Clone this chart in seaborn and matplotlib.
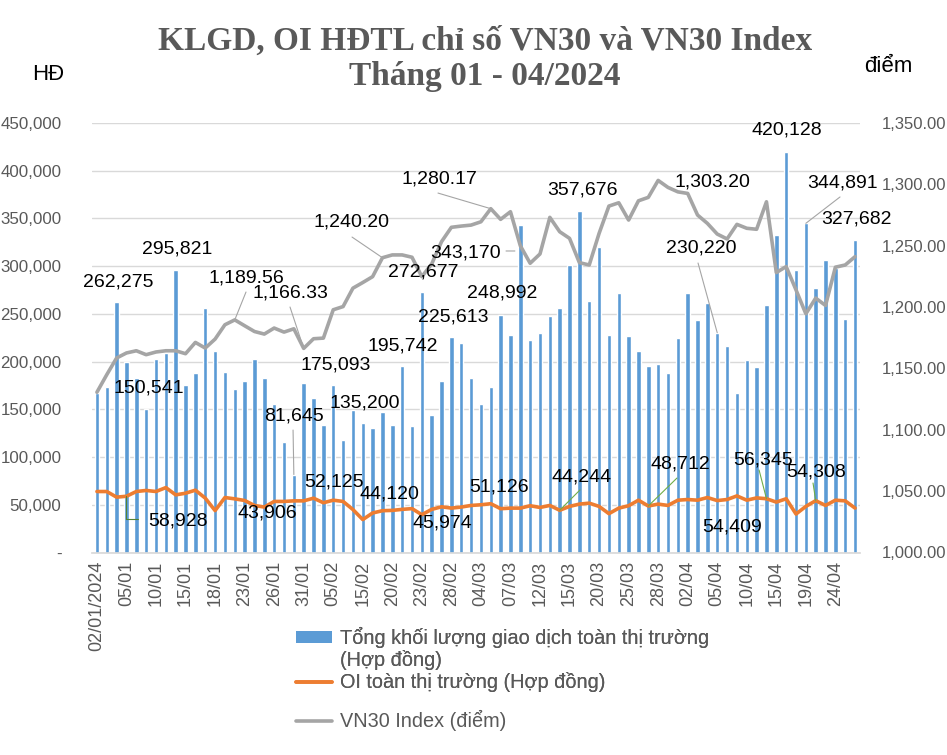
import matplotlib
matplotlib.use("Agg")
import matplotlib.pyplot as plt
import seaborn as sns
import numpy as np
import pandas as pd
from matplotlib.patches import Patch
from matplotlib.lines import Line2D
from matplotlib.ticker import FuncFormatter, FixedLocator

# ---------------- data ----------------
dates = ["02/01/2024", "03/01", "04/01", "05/01", "08/01", "09/01", "10/01", "11/01", "12/01",
         "15/01", "16/01", "17/01", "18/01", "19/01", "22/01", "23/01", "24/01", "25/01",
         "26/01", "29/01", "30/01", "31/01", "01/02", "02/02", "05/02", "06/02", "07/02",
         "15/02", "16/02", "19/02", "20/02", "21/02", "22/02", "23/02", "26/02", "27/02",
         "28/02", "29/02", "01/03", "04/03", "05/03", "06/03", "07/03", "08/03", "11/03",
         "12/03", "13/03", "14/03", "15/03", "18/03", "19/03", "20/03", "21/03", "22/03",
         "25/03", "26/03", "27/03", "28/03", "29/03", "01/04", "02/04", "03/04", "04/04",
         "05/04", "08/04", "09/04", "10/04", "11/04", "12/04", "15/04", "16/04", "17/04",
         "19/04", "22/04", "23/04", "24/04", "25/04", "26/04"]

volume = [167400, 173600, 262275, 199700, 183000, 150541, 202800, 209000, 295821,
          175300, 188200, 255900, 211100, 189200, 170800, 179900, 202800, 183000,
          155900, 115300, 81645, 177800, 162200, 134000, 175093, 117400, 149700,
          135200, 130900, 147600, 134000, 195742, 133000, 272677, 144400, 179900,
          225613, 219400, 183000, 155900, 173600, 248992, 227800, 343170, 222600,
          229900, 247600, 255900, 300700, 357676, 263200, 320500, 227800, 271500,
          226700, 211100, 195500, 197600, 188200, 224700, 271800, 243600, 261300,
          230220, 216400, 167200, 201700, 194400, 259200, 332400, 420128, 295800,
          344891, 277000, 306300, 297900, 244600, 327682]

oi = [63900, 63900, 58000, 58928, 63900, 65000, 63900, 68000, 60400,
      62100, 65300, 57000, 43906, 57600, 56200, 54500, 49300, 47600,
      53500, 53500, 54100, 54100, 56900, 52125, 54800, 53500, 45000,
      34500, 41400, 43800, 44120, 45200, 45974, 39600, 45200, 47900,
      46500, 47600, 49300, 50000, 51126, 45900, 46500, 46500, 49000,
      47200, 49300, 44244, 48300, 50700, 51700, 48300, 40700, 46500,
      49000, 54800, 48712, 50700, 49300, 54800, 55500, 54800, 57600,
      54409, 55500, 59300, 54800, 57200, 56345, 52800, 56300, 40300,
      48300, 54308, 49300, 54800, 54100, 46500]

vn30 = [1130.6, 1144.9, 1158.5, 1162.6, 1164.4, 1161.2, 1163.4, 1164.4, 1164.4,
        1162.0, 1171.2, 1166.6, 1173.9, 1185.6, 1189.56, 1184.8, 1180.1, 1178.0,
        1182.9, 1179.6, 1182.3, 1166.33, 1174.2, 1174.7, 1197.8, 1200.4, 1215.4,
        1220.0, 1224.8, 1240.20, 1242.5, 1242.5, 1240.6, 1224.8, 1235.1, 1253.3,
        1265.0, 1266.0, 1266.8, 1269.5, 1280.17, 1271.5, 1277.7, 1250.0, 1235.7,
        1243.3, 1273.1, 1261.4, 1256.0, 1236.2, 1234.3, 1260.0, 1282.3, 1285.0,
        1270.9, 1286.6, 1289.4, 1303.20, 1297.5, 1293.9, 1292.6, 1275.0, 1268.2,
        1259.5, 1255.5, 1267.4, 1264.2, 1263.4, 1285.8, 1228.1, 1233.0, 1214.0,
        1194.5, 1207.3, 1201.3, 1232.5, 1234.3, 1241.1]

left_ticks = [0, 50000, 100000, 150000, 200000, 250000, 300000, 350000, 400000, 450000]
right_ticks = [1000, 1050, 1100, 1150, 1200, 1250, 1300, 1350]

title_text = "KLGD, OI HĐTL chỉ số VN30 và VN30 Index\nTháng 01 - 04/2024"
legend_labels = ["Tổng khối lượng giao dịch toàn thị trường",
                 "(Hợp đồng)",
                 "OI toàn thị trường (Hợp đồng)",
                 "VN30 Index (điểm)"]

# data labels: (text, x position (category index), y position on left axis)
labels_bar = [("262,275", 2.14, 283400), ("295,821", 8.13, 318000), ("150,541", 5.29, 172300),
              ("81,645", 20.02, 143000), ("175,093", 24.23, 196400), ("135,200", 27.18, 156900),
              ("195,742", 31.09, 216400), ("272,677", 33.12, 294200), ("225,613", 36.17, 247000),
              ("248,992", 41.14, 271600), ("343,170", 37.44, 313800), ("357,676", 49.27, 379800),
              ("230,220", 61.35, 318700), ("420,128", 70.09, 442700), ("344,891", 75.68, 387400),
              ("327,682", 77.10, 349100)]
labels_vn30 = [("1,189.56", 15.14, 287600), ("1,166.33", 19.66, 271900),
               ("1,240.20", 25.86, 346600), ("1,280.17", 34.74, 391300),
               ("1,303.20", 62.47, 388500)]
labels_oi = [("58,928", 8.19, 33500), ("43,906", 17.28, 41700), ("52,125", 24.08, 74200),
             ("44,120", 29.72, 61300), ("45,974", 35.10, 31200), ("51,126", 40.84, 68300),
             ("44,244", 49.27, 79100), ("48,712", 59.22, 92700), ("54,409", 64.55, 27000),
             ("56,345", 67.70, 96900), ("54,308", 73.03, 84300)]

# leader lines: (point index, start x, start y on left axis)
leaders_vn30 = [(14, 15.14, 272900), (21, 19.61, 257200), (29, 25.91, 330500), (40, 34.64, 376600)]
leaders_bar = [(20, 19.92, 128300), (63, 61.05, 303300), (72, 75.47, 372500)]
leaders_oi = [(47, 49.06, 65500), (56, 58.91, 78000), (68, 67.25, 86400), (73, 72.73, 72800)]

# ---------------- style ----------------
sns.set_theme(style="white")
plt.rcParams["font.family"] = ["Liberation Sans", "DejaVu Sans"]

BLUE = "#5B9BD5"
ORANGE = "#ED7D31"
GREY = "#A5A5A5"
TXT = "#595959"

df = pd.DataFrame({"idx": np.arange(len(dates)), "volume": volume, "oi": oi, "vn30": vn30})

fig = plt.figure(figsize=(9.47, 7.55), dpi=100)
ax = fig.add_axes([92 / 947, 1 - 552.5 / 755, (860 - 92) / 947, (552.5 - 123) / 755])

sns.barplot(data=df, x="idx", y="volume", color=BLUE, saturation=1, width=0.45, ax=ax, zorder=2)
sns.lineplot(data=df, x="idx", y="oi", color=ORANGE, lw=2.6, ax=ax, zorder=3)

ax.set_xlim(-0.5, len(dates) - 0.5)
ax.set_ylim(0, 450000)
ax.yaxis.set_major_locator(FixedLocator(left_ticks))
ax.yaxis.set_major_formatter(FuncFormatter(lambda v, p: "-" if v == 0 else f"{v:,.0f}"))
ax.grid(axis="y", color="#D9D9D9", lw=1, zorder=0)
ax.grid(axis="x", visible=False)
ax.set_axisbelow(True)
tick_pos = list(range(0, len(dates), 3))
ax.xaxis.set_major_locator(FixedLocator(tick_pos))
ax.set_xticklabels([dates[i] for i in tick_pos], rotation=90)
ax.tick_params(axis="x", length=0, labelsize=13, labelcolor=TXT, pad=6)
ax.tick_params(axis="y", length=0, labelsize=12.2, labelcolor=TXT, pad=22)
for lab in ax.get_yticklabels():
    lab.set_horizontalalignment("right")
ax.set_xlabel("")
ax.set_ylabel("")
for s in ["top", "left", "right"]:
    ax.spines[s].set_visible(False)
ax.spines["bottom"].set_color("#D9D9D9")

ax2 = ax.twinx()
sns.lineplot(data=df, x="idx", y="vn30", color=GREY, lw=2.6, ax=ax2)
ax2.set_ylim(1000, 1350)
ax2.yaxis.set_major_locator(FixedLocator(right_ticks))
ax2.yaxis.set_major_formatter(FuncFormatter(lambda v, p: f"{v:,.2f}"))
ax2.tick_params(axis="y", length=0, labelsize=12, labelcolor=TXT, pad=16)
ax2.grid(False)
ax2.set_ylabel("")
for s in ["top", "left", "right", "bottom"]:
    ax2.spines[s].set_visible(False)

# ---------------- data labels ----------------
for t, x, y in labels_bar + labels_vn30 + labels_oi:
    ax2.text(x, y, t, transform=ax.transData, ha="center", va="center",
             fontsize=14, color="black", zorder=10)

lead_kw = dict(arrowstyle="-", lw=0.8, shrinkA=0, shrinkB=0)
for i, sx, sy in leaders_vn30:
    ax2.annotate("", xy=(i, vn30[i]), xycoords=ax2.transData,
                 xytext=(sx, sy), textcoords=ax.transData,
                 arrowprops=dict(color=GREY, **lead_kw))
for i, sx, sy in leaders_bar:
    ax2.annotate("", xy=(i, volume[i]), xycoords=ax.transData,
                 xytext=(sx, sy), textcoords=ax.transData,
                 arrowprops=dict(color=GREY, **lead_kw))
for i, sx, sy in leaders_oi:
    ax2.annotate("", xy=(i, oi[i]), xycoords=ax.transData,
                 xytext=(sx, sy), textcoords=ax.transData,
                 arrowprops=dict(color="#70AD47", **lead_kw))
# elbow leader for 58,928 and short leader for 343,170
ax2.annotate("", xy=(3, oi[3]), xycoords=ax.transData, xytext=(4.14, 35100),
             textcoords=ax.transData,
             arrowprops=dict(color="#548235", connectionstyle="angle,angleA=0,angleB=90,rad=0", **lead_kw))
ax2.annotate("", xy=(42.45, 315900), xycoords=ax.transData, xytext=(41.55, 315900),
             textcoords=ax.transData, arrowprops=dict(color=GREY, **lead_kw))

# ---------------- title / axis titles ----------------
fig.text(485 / 947, 1 - 59 / 755, title_text, ha="center", va="center", fontsize=24,
         fontweight="bold", color=TXT, family=["Liberation Serif", "DejaVu Serif"], linespacing=1.2)
fig.text(48 / 947, 1 - 75 / 755, "HĐ", ha="center", va="center", fontsize=16, color="black")
fig.text(888 / 947, 1 - 67 / 755, "điểm", ha="center", va="center", fontsize=16, color="black")

# ---------------- legend ----------------
handles_a = [Patch(facecolor=BLUE, edgecolor="none"),
             Patch(facecolor="none", edgecolor="none"),
             Line2D([0], [0], color=ORANGE, lw=2.6)]
leg_a = fig.legend(handles_a, legend_labels[:3], loc="upper left",
                   bbox_to_anchor=(296 / 947, 1 - 627 / 755),
                   frameon=False, fontsize=14.3, handlelength=1.8, handleheight=0.55,
                   labelspacing=0.1, handletextpad=0.4, borderaxespad=0, borderpad=0)
handles_b = [Line2D([0], [0], color=GREY, lw=2.6)]
leg_b = fig.legend(handles_b, legend_labels[3:], loc="upper left",
                   bbox_to_anchor=(296 / 947, 1 - 710 / 755),
                   frameon=False, fontsize=14.3, handlelength=1.8, handleheight=0.55,
                   handletextpad=0.4, borderaxespad=0, borderpad=0)
fig.add_artist(leg_a)
for lg in (leg_a, leg_b):
    for t in lg.get_texts():
        t.set_color(TXT)

fig.savefig("out.png", dpi=100)
